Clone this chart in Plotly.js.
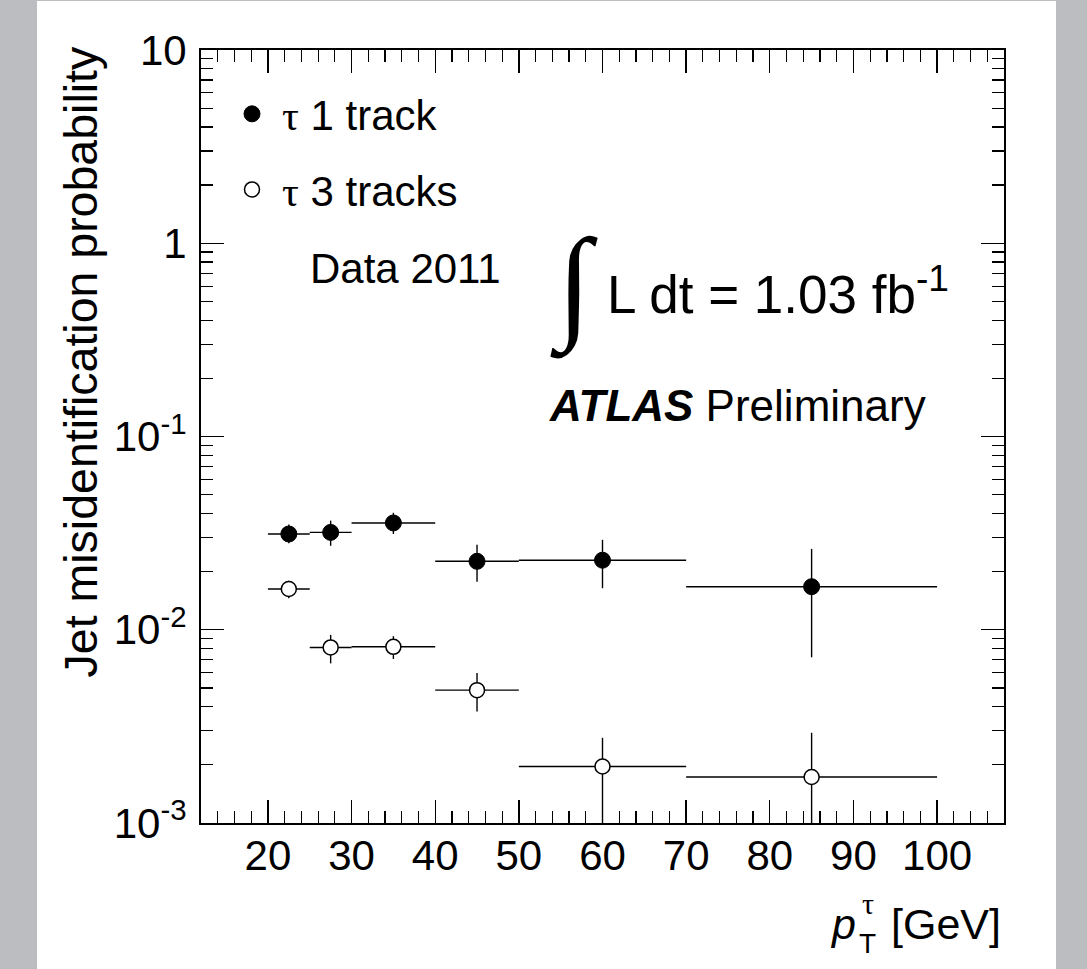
<!DOCTYPE html>
<html>
<head>
<meta charset="utf-8">
<script src="https://cdn.plot.ly/plotly-3.0.1.min.js"></script>
<style>
html, body { margin:0; padding:0; background:#bcbdc1; width:1087px; height:969px; overflow:hidden; }
#chart { position:absolute; left:37px; top:1px; width:1019px; height:968px; background:#fff; }
</style>
</head>
<body>
<div id="chart"></div>
<script>
// ---- data ----
var ptCenters   = [22.5, 27.5, 35, 45, 60, 85];
var ptHalfWidth = [2.5, 2.5, 5, 5, 10, 15];

var oneTrack     = [0.0313, 0.0319, 0.0357, 0.0226, 0.0229, 0.0167];
var oneErrUp     = [0.0037, 0.0048, 0.0046, 0.0049, 0.0063, 0.0095];
var oneErrDown   = [0.0033, 0.0047, 0.0044, 0.0049, 0.0065, 0.0095];

var threeTrack   = [0.01625, 0.0081, 0.00816, 0.00487, 0.00196, 0.00173];
var threeErrUp   = [0.0017, 0.0013, 0.0011, 0.0011, 0.0008, 0.0012];
var threeErrDown = [0.0017, 0.0014, 0.0011, 0.0011, 0.0015, 0.0012];

var xTickVals = [20, 30, 40, 50, 60, 70, 80, 90, 100];
var yTickVals = [0.001, 0.01, 0.1, 1, 10];
var yTickText = ['10<sup>-3</sup>', '10<sup>-2</sup>', '10<sup>-1</sup>', '1', '10'];

var yMinor = [];
for (var d = -3; d < 1; d++) {
  for (var m = 2; m <= 9; m++) yMinor.push(m * Math.pow(10, d));
}

// ---- geometry helpers (page pixels -> paper coords) ----
var PL = 201, PR = 1004, PT = 50, PB = 822;
function px(x) { return (x - PL) / (PR - PL); }
function py(y) { return (PB - y) / (PB - PT); }

var FONT = 'Liberation Sans, Arial, Helvetica, sans-serif';
var SERIF = 'Liberation Serif';

var errStyle = { type:'data', symmetric:false, color:'#000', thickness:1.4, width:0 };

var traces = [
  {
    type:'scatter', mode:'markers', name:'<span style="font-family:' + SERIF + '">τ</span> 1 track',
    legendgroup:'a',
    x: ptCenters, y: oneTrack,
    marker:{ symbol:'circle', size:16, color:'#000', line:{color:'#000', width:1} },
    error_y: Object.assign({}, errStyle, { array: oneErrUp, arrayminus: oneErrDown }),
    error_x: Object.assign({}, errStyle, { symmetric:true, array: ptHalfWidth })
  },
  {
    type:'scatter', mode:'markers', name:'<span style="font-family:' + SERIF + '">τ</span> 3 tracks',
    legendgroup:'b',
    x: ptCenters, y: threeTrack,
    marker:{ symbol:'circle', size:15, color:'#fff', line:{color:'#000', width:1.5} },
    error_y: Object.assign({}, errStyle, { array: threeErrUp, arrayminus: threeErrDown }),
    error_x: Object.assign({}, errStyle, { symmetric:true, array: ptHalfWidth })
  }
];

var layout = {
  width:1019, height:968,
  margin:{ l:164, r:52, t:49, b:146, pad:0 },
  paper_bgcolor:'#fff', plot_bgcolor:'#fff',
  font:{ family:FONT, color:'#000', size:42 },
  showlegend:true,
  legend:{
    x: px(222), y: py(80), xanchor:'left', yanchor:'top',
    bgcolor:'rgba(0,0,0,0)', borderwidth:0,
    font:{ family:FONT, size:42, color:'#000' },
    itemwidth:50, tracegroupgap:18, traceorder:'grouped'
  },
  xaxis:{
    type:'linear', range:[12, 108],
    showgrid:false, zeroline:false,
    showline:true, linecolor:'#000', linewidth:2, mirror:'ticks',
    ticks:'inside', ticklen:23, tickwidth:1.4, tickcolor:'#000',
    tickmode:'array', tickvals:xTickVals,
    ticklabelstandoff:-5,
    tickfont:{ family:FONT, size:42, color:'#000' },
    minor:{ ticks:'inside', ticklen:12, tickwidth:1.2, tickcolor:'#000', dtick:2, tick0:0, showgrid:false }
  },
  yaxis:{
    type:'log', range:[-3, 1],
    showgrid:false, zeroline:false,
    showline:true, linecolor:'#000', linewidth:2, mirror:'ticks',
    ticks:'inside', ticklen:23, tickwidth:1.4, tickcolor:'#000',
    tickmode:'array', tickvals:yTickVals, ticktext:yTickText,
    ticklabelstandoff:4,
    tickfont:{ family:FONT, size:42, color:'#000' },
    minor:{ ticks:'inside', ticklen:12, tickwidth:1.2, tickcolor:'#000', tickmode:'array', tickvals:yMinor, showgrid:false }
  },
  annotations:[
    { xref:'paper', yref:'paper', x:px(81), y:py(362), xanchor:'center', yanchor:'middle',
      text:'Jet misidentification probability', textangle:-90, showarrow:false,
      font:{ family:FONT, size:46.5, color:'#000' } },
    { xref:'paper', yref:'paper', x:px(1003), y:py(923), xanchor:'right', yanchor:'middle',
      text:'[GeV]', showarrow:false, font:{ family:FONT, size:43, color:'#000' } },
    { xref:'paper', yref:'paper', x:px(858), y:py(923), xanchor:'right', yanchor:'middle',
      text:'<i>p</i>', showarrow:false, font:{ family:FONT, size:43, color:'#000' } },
    { xref:'paper', yref:'paper', x:px(868), y:py(902), xanchor:'center', yanchor:'middle',
      text:'<span style="font-family:' + SERIF + '">τ</span>', showarrow:false, font:{ family:FONT, size:30, color:'#000' } },
    { xref:'paper', yref:'paper', x:px(867), y:py(942), xanchor:'center', yanchor:'middle',
      text:'T', showarrow:false, font:{ family:FONT, size:28, color:'#000' } },
    { xref:'paper', yref:'paper', x:px(308), y:py(268), xanchor:'left', yanchor:'middle',
      text:'Data 2011', showarrow:false, font:{ family:FONT, size:42, color:'#000' } },
    { xref:'paper', yref:'paper', x:px(574), y:py(286), xanchor:'center', yanchor:'middle',
      text:'∫', showarrow:false, font:{ family:SERIF, size:125, color:'#000' } },
    { xref:'paper', yref:'paper', x:px(605), y:py(290), xanchor:'left', yanchor:'middle',
      text:'L dt = 1.03 fb<sup>-1</sup>', showarrow:false, font:{ family:FONT, size:53, color:'#000' } },
    { xref:'paper', yref:'paper', x:px(547), y:py(405), xanchor:'left', yanchor:'middle',
      text:'<b><i>ATLAS</i></b> Preliminary', showarrow:false, font:{ family:FONT, size:44, color:'#000' } }
  ]
};

Plotly.newPlot('chart', traces, layout, { staticPlot:true, displayModeBar:false });
</script>
</body>
</html>
